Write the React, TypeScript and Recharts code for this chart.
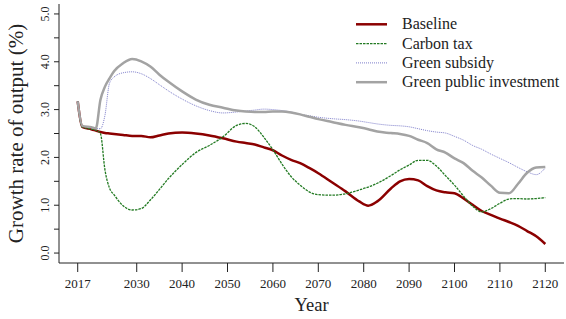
import { Label, Line, LineChart, XAxis, YAxis } from 'recharts';

// Growth rate of output (%) under four policy scenarios.
const years = [
  2017, 2018, 2020, 2021, 2022, 2023, 2024, 2025, 2027, 2029, 2031, 2033, 2035, 2037, 2040, 2043,
  2046, 2049, 2052, 2054, 2056, 2058, 2060, 2062, 2064, 2066, 2068, 2070, 2073, 2076, 2079, 2081,
  2083, 2086, 2088, 2090, 2092, 2094, 2096, 2098, 2100, 2102, 2104, 2106, 2108, 2110, 2112, 2114,
  2116, 2118, 2120,
];

const baseline = [
  3.17, 2.64, 2.59, 2.56, 2.53, 2.51, 2.5, 2.49, 2.47, 2.45, 2.45, 2.42, 2.46, 2.5, 2.52, 2.5,
  2.46, 2.4, 2.33, 2.3, 2.27, 2.21, 2.15, 2.04, 1.95, 1.88, 1.78, 1.67, 1.48, 1.29, 1.08, 0.99,
  1.08, 1.35, 1.5, 1.55, 1.52, 1.4, 1.31, 1.27, 1.25, 1.14, 1.01, 0.88, 0.8, 0.72, 0.65, 0.57,
  0.46, 0.35, 0.19,
];

const carbonTax = [
  3.17, 2.64, 2.59, 2.57, 2.5, 1.74, 1.36, 1.22, 0.99, 0.9, 0.93, 1.11, 1.33, 1.56, 1.85, 2.1,
  2.25, 2.43, 2.67, 2.71, 2.64, 2.42, 2.16, 1.86, 1.6, 1.42, 1.28, 1.22, 1.21, 1.24, 1.32, 1.38,
  1.46, 1.62, 1.74, 1.84, 1.94, 1.94, 1.82, 1.62, 1.42, 1.19, 0.98, 0.86, 0.93, 1.04, 1.13, 1.14,
  1.13, 1.14, 1.16,
];

const greenSubsidy = [
  3.17, 2.66, 2.62, 2.6, 2.6, 2.88, 3.55, 3.68, 3.77, 3.79, 3.75, 3.65, 3.52, 3.39, 3.22, 3.08,
  2.98, 2.93, 2.95, 2.97, 2.99, 3.01, 3.0, 2.98, 2.95, 2.9, 2.87, 2.84, 2.81, 2.79, 2.76, 2.73,
  2.7, 2.67, 2.66, 2.64, 2.6, 2.56, 2.53, 2.51, 2.44, 2.36, 2.25, 2.17, 2.07, 1.98, 1.89, 1.79,
  1.7, 1.64, 1.78,
];

const greenPublicInvestment = [
  3.17, 2.66, 2.63, 2.61, 3.2, 3.48, 3.65, 3.8, 3.97, 4.06, 4.01, 3.9, 3.73, 3.58, 3.38, 3.21,
  3.1, 3.04, 2.98, 2.96, 2.95, 2.95, 2.96, 2.96, 2.94, 2.9, 2.85, 2.8, 2.74, 2.68, 2.63, 2.59,
  2.54, 2.51, 2.49, 2.45, 2.37, 2.3, 2.17, 2.1, 1.98, 1.88, 1.72, 1.58, 1.41, 1.26, 1.25, 1.45,
  1.68, 1.79, 1.8,
];

const xTicks = [2017, 2030, 2040, 2050, 2060, 2070, 2080, 2090, 2100, 2110, 2120];
const yTicks = [0, 0.5, 1, 1.5, 2, 2.5, 3, 3.5, 4, 4.5, 5];

const series = [
  { key: 'baseline', name: 'Baseline', color: '#8b0000', width: 2.5, dash: undefined },
  { key: 'carbonTax', name: 'Carbon tax', color: '#227a22', width: 1.3, dash: '2.5 1' },
  { key: 'greenSubsidy', name: 'Green subsidy', color: '#6f6fc4', width: 0.9, dash: '1 1' },
  { key: 'greenPublicInvestment', name: 'Green public investment', color: '#a3a3a3', width: 2.5, dash: undefined },
];

const data = years.map((year, i) => ({
  year,
  baseline: baseline[i],
  carbonTax: carbonTax[i],
  greenSubsidy: greenSubsidy[i],
  greenPublicInvestment: greenPublicInvestment[i],
}));

const FONT = '"Liberation Serif", "DejaVu Serif", serif';
const INK = '#222';

// R-style vertical tick labels, only on whole numbers.
function YTick({ x, y, payload }: any) {
  if (!Number.isInteger(payload.value)) return null;
  return (
    <text
      x={x}
      y={y}
      transform={`rotate(-90 ${x} ${y})`}
      textAnchor="middle"
      fontSize={12}
      fontFamily={FONT}
      fill={INK}
    >
      {payload.value.toFixed(1)}
    </text>
  );
}

export default function App() {
  return (
    <div style={{ position: 'absolute', left: 0, top: 0, width: 566, height: 319, background: '#fff' }}>
      <LineChart
        width={566}
        height={319}
        data={data}
        margin={{ top: 4, right: 2, bottom: 0, left: 0 }}
        style={{ fontFamily: FONT }}
      >
        <XAxis
          dataKey="year"
          type="number"
          domain={[2012.88, 2124.12]}
          allowDataOverflow
          ticks={xTicks}
          interval={0}
          height={56}
          tickSize={9}
          tickMargin={7}
          tick={{ fontSize: 13, fill: INK, fontFamily: FONT }}
          stroke={INK}
          tickLine={{ stroke: INK }}
        >
          <Label
            content={({ viewBox }: any) => (
              <text
                x={viewBox.x + viewBox.width / 2}
                y={311}
                textAnchor="middle"
                fontSize={18.5}
                fontFamily={FONT}
                fill={INK}
              >
                Year
              </text>
            )}
          />
        </XAxis>
        {/* top edge of the plot box */}
        <XAxis
          xAxisId="top"
          dataKey="year"
          type="number"
          orientation="top"
          domain={[2012.88, 2124.12]}
          height={0}
          tick={false}
          tickLine={false}
          stroke={INK}
        />
        <YAxis
          type="number"
          domain={[-0.208, 5.208]}
          allowDataOverflow
          ticks={yTicks}
          interval={0}
          width={59}
          tickSize={5}
          tickMargin={5}
          tick={<YTick />}
          stroke={INK}
          tickLine={{ stroke: INK }}
        >
          <Label
            content={({ viewBox }: any) => {
              const cy = viewBox.y + viewBox.height / 2;
              return (
                <text
                  x={23}
                  y={cy}
                  transform={`rotate(-90 23 ${cy})`}
                  textAnchor="middle"
                  fontSize={21}
                  fontFamily={FONT}
                  fill={INK}
                >
                  Growth rate of output (%)
                </text>
              );
            }}
          />
        </YAxis>
        {series.map((s) => (
          <Line
            key={s.key}
            dataKey={s.key}
            name={s.name}
            type="monotone"
            stroke={s.color}
            strokeWidth={s.width}
            strokeDasharray={s.dash}
            dot={false}
            activeDot={false}
            isAnimationActive={false}
          />
        ))}
      </LineChart>
      {/* legend, top right inside the plot box */}
      <svg width={214} height={90} style={{ position: 'absolute', left: 352, top: 12 }}>
        {series.map((s, i) => {
          const cy = 12.3 + i * 19.3;
          return (
            <g key={s.key}>
              <line x1={4} y1={cy} x2={35} y2={cy} stroke={s.color} strokeWidth={s.width} strokeDasharray={s.dash} />
              <text x={50} y={cy + 5} fontSize={16} fontFamily={FONT} fill={INK}>
                {s.name}
              </text>
            </g>
          );
        })}
      </svg>
    </div>
  );
}
